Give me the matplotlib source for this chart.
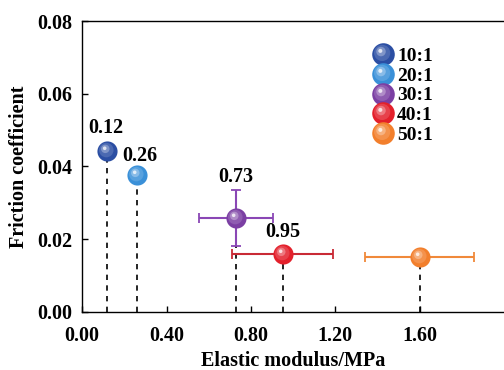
import matplotlib
matplotlib.use("Agg")
import matplotlib.pyplot as plt
import numpy as np
from matplotlib.path import Path
from matplotlib.legend_handler import HandlerTuple
from matplotlib.colors import to_rgb

# Data
ratios = ["10:1", "20:1", "30:1", "40:1", "50:1"]
modulus = [0.12, 0.26, 0.73, 0.95, 1.60]
friction = [0.0442, 0.0376, 0.0258, 0.0160, 0.0150]
modulus_err = [0.0, 0.0, 0.175, 0.24, 0.26]
friction_err = [0.0, 0.0, 0.0078, 0.0, 0.0]
value_labels = ["0.12", "0.26", "0.73", "0.95", None]
colors = ["#2b4ea3", "#3a90d8", "#7b3fa3", "#e3202b", "#f27f2c"]
err_colors = ["#2b4ea3", "#3a90d8", "#8a47b5", "#c92a35", "#f0893a"]
xticks = [0.0, 0.4, 0.8, 1.2, 1.6]
yticks = [0.00, 0.02, 0.04, 0.06, 0.08]

# label placement above each sphere (points)
label_offsets = [(-1.5, 17), (2, 14), (0, 29.5), (0, 15.5), (0, 15)]

plt.rcParams["font.family"] = ["Liberation Serif", "DejaVu Serif"]
plt.rcParams["font.weight"] = "bold"


def blob(cx, cy, r):
    """Circle marker path offset inside a fixed [-1, 1] box."""
    frame = Path([(-1, -1), (1, 1)], [Path.MOVETO, Path.MOVETO])
    circ = Path.circle((cx, cy), r)
    return Path.make_compound_path(frame, circ)


def lighten(c, f):
    r = np.array(to_rgb(c))
    return tuple(r + (1 - r) * f)


def sphere_layers(color):
    return [
        (blob(0, 0, 1.0), color),
        (blob(-0.12, 0.14, 0.72), lighten(color, 0.15)),
        (blob(-0.22, 0.26, 0.42), lighten(color, 0.4)),
        (blob(-0.28, 0.32, 0.18), lighten(color, 0.85)),
    ]


fig = plt.figure(figsize=(5.04, 3.70), dpi=100)
ax = fig.add_axes([0.163, 0.157, 0.837, 0.786])

msize = 14.5
handles = []
for i in range(len(ratios)):
    x, y = modulus[i], friction[i]
    # guide line down to the x axis
    ax.plot([x, x], [0, y], color="black", lw=1.2, ls=(0, (3.2, 3.2)), zorder=1)
    if modulus_err[i] > 0 or friction_err[i] > 0:
        ax.errorbar(x, y,
                    xerr=modulus_err[i] if modulus_err[i] > 0 else None,
                    yerr=friction_err[i] if friction_err[i] > 0 else None,
                    fmt="none", ecolor=err_colors[i], elinewidth=1.5,
                    capsize=3.5, capthick=1.3, zorder=2)
    layer_handles = []
    for k, (path, col) in enumerate(sphere_layers(colors[i])):
        h, = ax.plot([x], [y], ls="none", marker=path, markersize=msize,
                     markerfacecolor=col, markeredgewidth=0,
                     zorder=3 + k * 0.1)
        layer_handles.append(h)
    handles.append(tuple(layer_handles))
    if value_labels[i] is not None:
        ax.annotate(value_labels[i], (x, y), xytext=label_offsets[i],
                    textcoords="offset points", ha="center", va="center",
                    fontsize=14.5, fontweight="bold")

ax.set_xlim(0, 2.0)
ax.set_ylim(0, 0.08)
ax.set_xticks(xticks)
ax.set_xticklabels([f"{v:.2f}" for v in xticks])
ax.set_yticks(yticks)
ax.set_yticklabels([f"{v:.2f}" for v in yticks])
ax.tick_params(direction="in", length=4, width=1.0, labelsize=14.5)
ax.tick_params(axis="x", pad=10)
ax.tick_params(axis="y", pad=7)
for lbl in ax.get_xticklabels() + ax.get_yticklabels():
    lbl.set_fontweight("bold")
for s in ["left", "bottom", "top"]:
    ax.spines[s].set_linewidth(1.0)
ax.spines["right"].set_visible(False)

ax.set_xlabel("Elastic modulus/MPa", fontsize=14.5, fontweight="bold", labelpad=4)
ax.set_ylabel("Friction coefficient", fontsize=14.5, fontweight="bold", labelpad=6)

leg = ax.legend(handles, ratios,
                handler_map={tuple: HandlerTuple(ndivide=1, pad=0)},
                loc="upper left", bbox_to_anchor=(0.69, 0.91), frameon=False,
                fontsize=14, handlelength=1.0, handletextpad=0.22,
                labelspacing=0.11, borderaxespad=0, borderpad=0,
                markerscale=1.12)
for t in leg.get_texts():
    t.set_fontweight("bold")

fig.savefig("out.png", dpi=100)
